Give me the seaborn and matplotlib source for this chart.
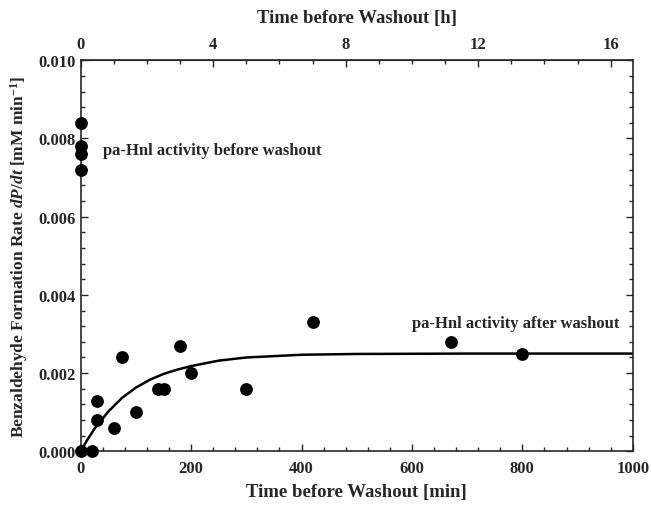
import numpy as np
import pandas as pd
import matplotlib
matplotlib.use("Agg")
import matplotlib.pyplot as plt
from matplotlib.ticker import MultipleLocator, FixedLocator, FormatStrFormatter
import seaborn as sns

# measured points: time before washout [min] vs rate [mM/min]
t_before = [0, 0, 0, 0]
rate_before = [0.0084, 0.0078, 0.0076, 0.0072]

t_after = [0, 20, 30, 30, 60, 75, 100, 140, 150, 180, 200, 300, 420, 670, 800]
rate_after = [0.0, 0.0, 0.0008, 0.0013, 0.0006, 0.0024, 0.0010, 0.0016, 0.0016,
              0.0027, 0.0020, 0.0016, 0.0033, 0.0028, 0.0025]

# fitted curve
t_fit = [0, 10, 25, 50, 75, 100, 125, 150, 175, 200, 250, 300, 400, 500, 700, 1000]
rate_fit = [0.0, 0.00025, 0.00058, 0.00102, 0.00137, 0.00163, 0.00183, 0.00198,
            0.00209, 0.00218, 0.00232, 0.0024, 0.00247, 0.00249, 0.0025, 0.0025]

hour_ticks = [0, 4, 8, 12, 16]

pts = pd.DataFrame({"t": t_before + t_after, "rate": rate_before + rate_after})
fit = pd.DataFrame({"t": t_fit, "rate": rate_fit})

sns.set_style("ticks")
plt.rcParams["font.family"] = ["Liberation Serif", "DejaVu Serif"]
plt.rcParams["font.weight"] = "bold"
plt.rcParams["mathtext.fontset"] = "custom"
plt.rcParams["mathtext.rm"] = "Liberation Serif:bold"
plt.rcParams["mathtext.it"] = "Liberation Serif:italic:bold"
plt.rcParams["mathtext.bf"] = "Liberation Serif:bold"

fig = plt.figure(figsize=(6.51, 5.06), dpi=100)
ax = fig.add_axes([0.124, 0.106, 0.848, 0.773])

sns.lineplot(data=fit, x="t", y="rate", color="black", lw=1.8, ax=ax)
sns.scatterplot(data=pts, x="t", y="rate", color="black", s=85, edgecolor="black",
                linewidth=0, clip_on=False, zorder=5, ax=ax)

ax.set_xlim(0, 1000)
ax.set_ylim(0, 0.010)
ax.xaxis.set_major_locator(MultipleLocator(200))
ax.xaxis.set_minor_locator(MultipleLocator(40))
ax.yaxis.set_major_locator(MultipleLocator(0.002))
ax.yaxis.set_minor_locator(MultipleLocator(0.0004))
ax.yaxis.set_major_formatter(FormatStrFormatter("%.3f"))
ax.tick_params(which="both", direction="in", top=False, right=True, labelsize=12, width=1)
ax.tick_params(which="major", length=5)
ax.tick_params(which="minor", length=3)
ax.tick_params(axis="x", which="major", pad=6)
for s in ax.spines.values():
    s.set_linewidth(1.2)

ax.set_xlabel("Time before Washout [min]", fontsize=13.5, fontweight="bold", labelpad=5)
ax.set_ylabel(r"Benzaldehyde Formation Rate $dP/dt$ [mM min$^{-1}$]",
              fontsize=12.5, fontweight="bold", labelpad=6)

top = ax.secondary_xaxis("top", functions=(lambda m: m / 60.0, lambda h: h * 60.0))
top.xaxis.set_major_locator(FixedLocator(hour_ticks))
top.xaxis.set_minor_locator(FixedLocator(list(range(0, 17))))
top.tick_params(which="both", direction="in", labelsize=12, width=1)
top.tick_params(which="major", length=5, pad=6)
top.tick_params(which="minor", length=3)
top.set_xlabel("Time before Washout [h]", fontsize=13.5, fontweight="bold", labelpad=10)

ax.text(40, 0.0077, "pa-Hnl activity before washout", fontsize=12, fontweight="bold",
        va="center", ha="left")
ax.text(600, 0.00327, "pa-Hnl activity after washout", fontsize=12, fontweight="bold",
        va="center", ha="left")

fig.savefig("out.png", dpi=100)
